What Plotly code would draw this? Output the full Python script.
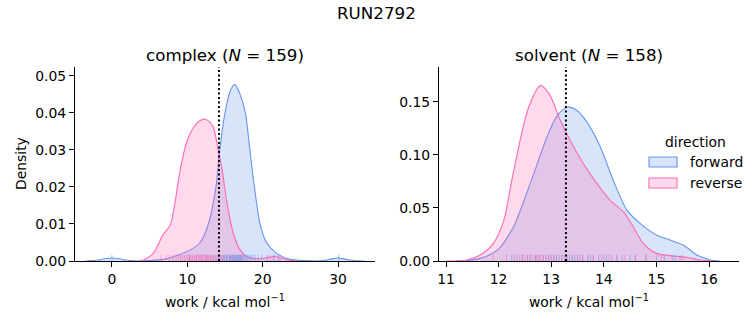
import plotly.graph_objects as go

# ---- data -------------------------------------------------------------
# kernel density estimates of the non-equilibrium work distributions
complex_fwd_x = [-3.5, -2.0, -1.0, 0.0, 1.0, 2.0, 3.5, 5.0, 7.0, 8.6, 10.4, 11.7, 12.8,
                 13.8, 14.3, 15.0, 15.7, 16.3, 17.0, 17.7, 18.3, 18.9, 19.65, 20.5,
                 21.9, 23.5, 25.5, 28.0, 29.0, 30.0, 31.0, 32.0, 33.5]
complex_fwd_y = [0.0, 0.0002, 0.0006, 0.0008, 0.0006, 0.0002, 0.0, 0.0001, 0.0005,
                 0.0015, 0.003, 0.005, 0.010, 0.020, 0.030, 0.040, 0.046, 0.0477,
                 0.045, 0.040, 0.030, 0.020, 0.010, 0.005, 0.002, 0.0005, 0.0001,
                 0.0001, 0.0005, 0.0008, 0.0005, 0.0001, 0.0]

complex_rev_x = [3.5, 4.2, 5.5, 6.8, 7.7, 8.3, 9.0, 9.9, 10.8, 11.6, 12.35, 13.0, 13.45,
                 14.1, 14.6, 15.2, 16.1, 17.0, 17.9, 19.0, 20.3, 21.5, 22.5, 23.5, 24.5]
complex_rev_y = [0.0, 0.0003, 0.0021, 0.0072, 0.0095, 0.015, 0.024, 0.032, 0.036,
                 0.0378, 0.0383, 0.0375, 0.0362, 0.030, 0.025, 0.0165, 0.0075, 0.003,
                 0.0012, 0.0006, 0.0008, 0.0012, 0.0008, 0.0002, 0.0]

solvent_fwd_x = [11.3, 11.65, 11.97, 12.28, 12.6, 12.92, 13.1, 13.3, 13.49, 13.68, 13.93,
                 14.18, 14.44, 14.69, 15.0, 15.26, 15.51, 15.77, 16.02, 16.2]
solvent_fwd_y = [0.0, 0.0025, 0.010, 0.032, 0.073, 0.117, 0.136, 0.145, 0.142, 0.131,
                 0.108, 0.076, 0.048, 0.0355, 0.0245, 0.0198, 0.015, 0.0056, 0.001, 0.0]

solvent_rev_x = [11.0, 11.4, 11.65, 11.9, 12.1, 12.25, 12.41, 12.57, 12.8, 12.98, 13.17,
                 13.39, 13.61, 13.87, 14.12, 14.37, 14.56, 14.75, 15.0, 15.32, 15.58,
                 15.83, 16.08]
solvent_rev_y = [0.0, 0.001, 0.0056, 0.0166, 0.0386, 0.076, 0.114, 0.145, 0.1657, 0.156,
                 0.133, 0.111, 0.092, 0.073, 0.0574, 0.0465, 0.0323, 0.0166, 0.0072,
                 0.0047, 0.0035, 0.001, 0.0]

# individual work values (rug)
complex_fwd_work = [0.0, 10.3, 11.2, 11.9, 12.6, 13.1, 13.5, 13.8, 14.1, 14.3, 14.5, 14.7,
                    14.9, 15.0, 15.2, 15.3, 15.5, 15.6, 15.7, 15.8, 15.9, 16.0, 16.1, 16.2,
                    16.3, 16.4, 16.5, 16.6, 16.7, 16.8, 16.9, 17.0, 17.1, 17.2, 17.3, 17.5,
                    17.6, 17.8, 18.0, 18.2, 18.4, 18.7, 19.0, 19.4, 19.9, 20.6, 21.4, 22.1,
                    30.1]
complex_rev_work = [6.5, 7.2, 7.6, 8.1, 8.5, 8.8, 9.1, 9.3, 9.6, 9.8, 10.0, 10.2, 10.4,
                    10.6, 10.7, 10.9, 11.0, 11.2, 11.3, 11.5, 11.6, 11.8, 11.9, 12.1, 12.2,
                    12.4, 12.5, 12.7, 12.8, 13.0, 13.1, 13.3, 13.5, 13.7, 13.9, 14.2, 14.5,
                    14.8, 15.2, 15.7, 16.3, 17.1, 21.0, 21.6, 22.3]
solvent_fwd_work = [12.25, 12.35, 12.45, 12.55, 12.6, 12.7, 12.75, 12.85, 12.9, 12.95,
                    13.0, 13.05, 13.1, 13.15, 13.2, 13.25, 13.3, 13.35, 13.4, 13.45, 13.5,
                    13.55, 13.6, 13.7, 13.75, 13.8, 13.9, 14.0, 14.05, 14.15, 14.25, 14.35,
                    14.5, 14.6, 14.8, 15.0, 15.15, 15.3, 15.35, 15.45]
solvent_rev_work = [11.9, 12.15, 12.3, 12.4, 12.45, 12.5, 12.55, 12.6, 12.65, 12.7, 12.72,
                    12.78, 12.8, 12.85, 12.9, 12.95, 13.0, 13.05, 13.1, 13.2, 13.3, 13.4,
                    13.5, 13.6, 13.7, 13.8, 13.95, 14.1, 14.25, 14.4, 14.6, 14.8, 15.1,
                    15.5]

# free energy estimates (dotted lines)
phase_names = ["complex", "solvent"]
phase_counts = [159, 158]
free_energy = [14.2, 13.28]

directions = ["forward", "reverse"]

complex_ticks = [0, 10, 20, 30]
complex_density_ticks = [0.00, 0.01, 0.02, 0.03, 0.04, 0.05]
solvent_ticks = [11, 12, 13, 14, 15, 16]
solvent_density_ticks = [0.00, 0.05, 0.10, 0.15]

# ---- styling ----------------------------------------------------------
FONT = "DejaVu Sans"
BLUE = "#6495ED"
PINK = "#FF69B4"
BLUE_FILL = "rgba(100,149,237,0.25)"
PINK_FILL = "rgba(255,105,180,0.25)"
BLUE_RUG = "rgba(100,149,237,0.55)"
PINK_RUG = "rgba(255,105,180,0.55)"

W, H = 753, 325

fig = go.Figure()


def add_kde(x, y, xa, ya, name, line, fill):
    fig.add_trace(go.Scatter(
        x=x, y=y, xaxis=xa, yaxis=ya, mode="lines", name=name,
        line=dict(color=line, width=1.1, shape="spline", smoothing=0.8),
        fill="tozeroy", fillcolor=fill, showlegend=False, hoverinfo="skip"))


add_kde(complex_fwd_x, complex_fwd_y, "x", "y", directions[0], BLUE, BLUE_FILL)
add_kde(complex_rev_x, complex_rev_y, "x", "y", directions[1], PINK, PINK_FILL)
add_kde(solvent_fwd_x, solvent_fwd_y, "x2", "y2", directions[0], BLUE, BLUE_FILL)
add_kde(solvent_rev_x, solvent_rev_y, "x2", "y2", directions[1], PINK, PINK_FILL)

shapes = []


def add_rug(values, xref, yref, color):
    for v in values:
        shapes.append(dict(type="line", xref=xref, yref=yref + " domain",
                           x0=v, x1=v, y0=0, y1=0.032,
                           line=dict(color=color, width=1), layer="above"))


add_rug(complex_fwd_work, "x", "y", BLUE_RUG)
add_rug(complex_rev_work, "x", "y", PINK_RUG)
add_rug(solvent_fwd_work, "x2", "y2", BLUE_RUG)
add_rug(solvent_rev_work, "x2", "y2", PINK_RUG)

for dg, xr, yr in zip(free_energy, ["x", "x2"], ["y", "y2"]):
    shapes.append(dict(type="line", xref=xr, yref=yr + " domain", x0=dg, x1=dg,
                       y0=0, y1=1, line=dict(color="black", width=2, dash="2px,2.5px"),
                       layer="above"))

# legend: patch + label per direction, under a "direction" heading
legend_rows_y = [162, 183]
for name, line, fill, py in zip(directions, [BLUE, PINK], [BLUE_FILL, PINK_FILL],
                                legend_rows_y):
    shapes.append(dict(type="rect", xref="paper", yref="paper",
                       x0=649 / W, x1=677 / W, y0=(H - py - 5) / H, y1=(H - py + 5) / H,
                       fillcolor=fill, line=dict(color=line, width=1.1)))

ax_common = dict(showline=True, linecolor="black", linewidth=1, showgrid=False,
                 zeroline=False, ticks="outside", ticklen=5, tickwidth=1,
                 automargin=False, tickcolor="black",
                 tickfont=dict(family=FONT, size=13.9, color="black"))

fig.update_layout(
    width=W, height=H, margin=dict(l=0, r=0, t=0, b=0, autoexpand=False),
    paper_bgcolor="white", plot_bgcolor="white",
    font=dict(family=FONT, color="black"),
    xaxis=dict(domain=[75 / W, 375 / W], range=[-4.9, 34.9], tickvals=complex_ticks,
               anchor="y", **ax_common),
    yaxis=dict(domain=[(H - 261) / H, (H - 67) / H], range=[0, 0.0524],
               tickvals=complex_density_ticks, tickformat=".2f", anchor="x", **ax_common),
    xaxis2=dict(domain=[439 / W, 739 / W], range=[10.867, 16.57], tickvals=solvent_ticks,
                anchor="y2", **ax_common),
    yaxis2=dict(domain=[(H - 261) / H, (H - 67) / H], range=[0, 0.183],
                tickvals=solvent_density_ticks, tickformat=".2f", anchor="x2", **ax_common),
    shapes=shapes,
    showlegend=False,
)

ann = [
    dict(text="RUN2792", x=376 / W, y=(H - 13) / H, font=dict(size=16.7)),
    dict(text=f"{phase_names[0]} (<i>N</i> = {phase_counts[0]})", x=225 / W,
         y=(H - 55) / H, font=dict(size=16.7)),
    dict(text=f"{phase_names[1]} (<i>N</i> = {phase_counts[1]})", x=589 / W,
         y=(H - 55) / H, font=dict(size=16.7)),
    dict(text="work / kcal mol<sup>−1</sup>", x=225 / W, y=(H - 301) / H,
         font=dict(size=13.9)),
    dict(text="work / kcal mol<sup>−1</sup>", x=589 / W, y=(H - 301) / H,
         font=dict(size=13.9)),
    dict(text="Density", x=21 / W, y=(H - 164) / H, textangle=-90,
         font=dict(size=13.9)),
    dict(text="direction", x=695 / W, y=(H - 142) / H, font=dict(size=13.9)),
]
for name, py in zip(directions, legend_rows_y):
    ann.append(dict(text=name, x=688 / W, y=(H - py) / H, xanchor="left",
                    font=dict(size=13.9)))
for a in ann:
    a.setdefault("xanchor", "center")
    a.update(xref="paper", yref="paper", showarrow=False, yanchor="middle")
    a["font"].update(family=FONT, color="black")
fig.update_layout(annotations=ann)

fig.write_html("out.html")
